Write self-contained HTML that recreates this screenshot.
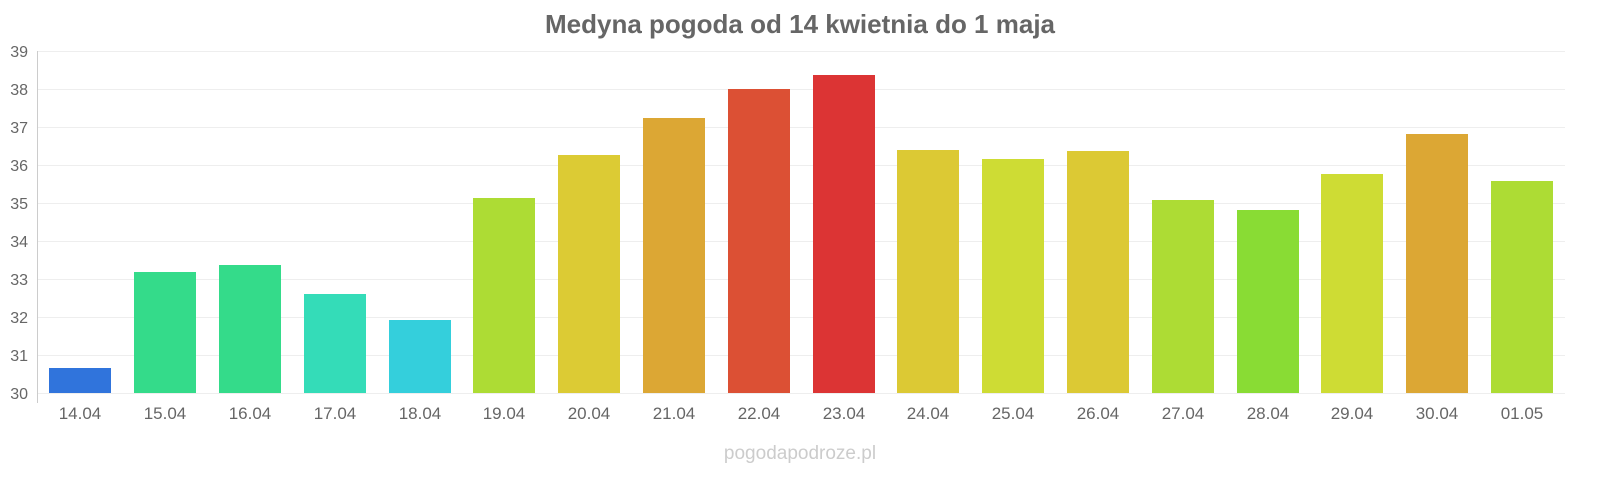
<!DOCTYPE html>
<html><head><meta charset="utf-8"><style>
body{margin:0;background:#fff;width:1600px;height:480px;overflow:hidden;font-family:"Liberation Sans",sans-serif}
</style></head><body>
<svg width="1600" height="480" xmlns="http://www.w3.org/2000/svg" font-family="Liberation Sans, sans-serif">
<text x="800" y="33" text-anchor="middle" font-size="26" font-weight="bold" fill="#666">Medyna pogoda od 14 kwietnia do 1 maja</text>
<g stroke="#eee" stroke-width="1">
<line x1="37" x2="1565" y1="51.5" y2="51.5"/><line x1="37" x2="1565" y1="89.5" y2="89.5"/>
<line x1="37" x2="1565" y1="127.5" y2="127.5"/><line x1="37" x2="1565" y1="165.5" y2="165.5"/>
<line x1="37" x2="1565" y1="203.5" y2="203.5"/><line x1="37" x2="1565" y1="241.5" y2="241.5"/>
<line x1="37" x2="1565" y1="279.5" y2="279.5"/><line x1="37" x2="1565" y1="317.5" y2="317.5"/>
<line x1="37" x2="1565" y1="355.5" y2="355.5"/><line x1="37" x2="1565" y1="393.5" y2="393.5"/>
</g>
<line x1="37.5" x2="37.5" y1="51" y2="403" stroke="#ccc"/>
<g font-size="16" fill="#666" text-anchor="end">
<text x="28" y="57">39</text><text x="28" y="95">38</text><text x="28" y="133">37</text><text x="28" y="171">36</text><text x="28" y="209">35</text><text x="28" y="247">34</text><text x="28" y="285">33</text><text x="28" y="323">32</text><text x="28" y="361">31</text><text x="28" y="399">30</text>
</g>
<g stroke-width="1">
<rect x="49" y="368" width="62" height="25" fill="#3074dc"/>
<rect x="134" y="272" width="62" height="121" fill="#34db8a"/>
<rect x="219" y="265" width="62" height="128" fill="#34db8a"/>
<rect x="304" y="294" width="62" height="99" fill="#34dcb8"/>
<rect x="389" y="320" width="62" height="73" fill="#34cfdc"/>
<rect x="473" y="198" width="62" height="195" fill="#addc34"/>
<rect x="558" y="155" width="62" height="238" fill="#dccb34"/>
<rect x="643" y="118" width="62" height="275" fill="#dca734"/>
<rect x="728" y="89" width="62" height="304" fill="#dc5034"/>
<rect x="813" y="75" width="62" height="318" fill="#dc3434"/>
<rect x="897" y="150" width="62" height="243" fill="#dcc934"/>
<rect x="982" y="159" width="62" height="234" fill="#cedc34"/>
<rect x="1067" y="151" width="62" height="242" fill="#dcc934"/>
<rect x="1152" y="200" width="62" height="193" fill="#addc34"/>
<rect x="1237" y="210" width="62" height="183" fill="#89dc34"/>
<rect x="1321" y="174" width="62" height="219" fill="#cedc34"/>
<rect x="1406" y="134" width="62" height="259" fill="#dca734"/>
<rect x="1491" y="181" width="62" height="212" fill="#addc34"/>
</g>
<g font-size="17" fill="#666" text-anchor="middle">
<text x="80" y="419">14.04</text><text x="165" y="419">15.04</text><text x="250" y="419">16.04</text><text x="335" y="419">17.04</text><text x="420" y="419">18.04</text><text x="504" y="419">19.04</text><text x="589" y="419">20.04</text><text x="674" y="419">21.04</text><text x="759" y="419">22.04</text><text x="844" y="419">23.04</text><text x="928" y="419">24.04</text><text x="1013" y="419">25.04</text><text x="1098" y="419">26.04</text><text x="1183" y="419">27.04</text><text x="1268" y="419">28.04</text><text x="1352" y="419">29.04</text><text x="1437" y="419">30.04</text><text x="1522" y="419">01.05</text>
</g>
<text x="800" y="459" text-anchor="middle" font-size="19" fill="#ccc">pogodapodroze.pl</text>
</svg>
</body></html>
